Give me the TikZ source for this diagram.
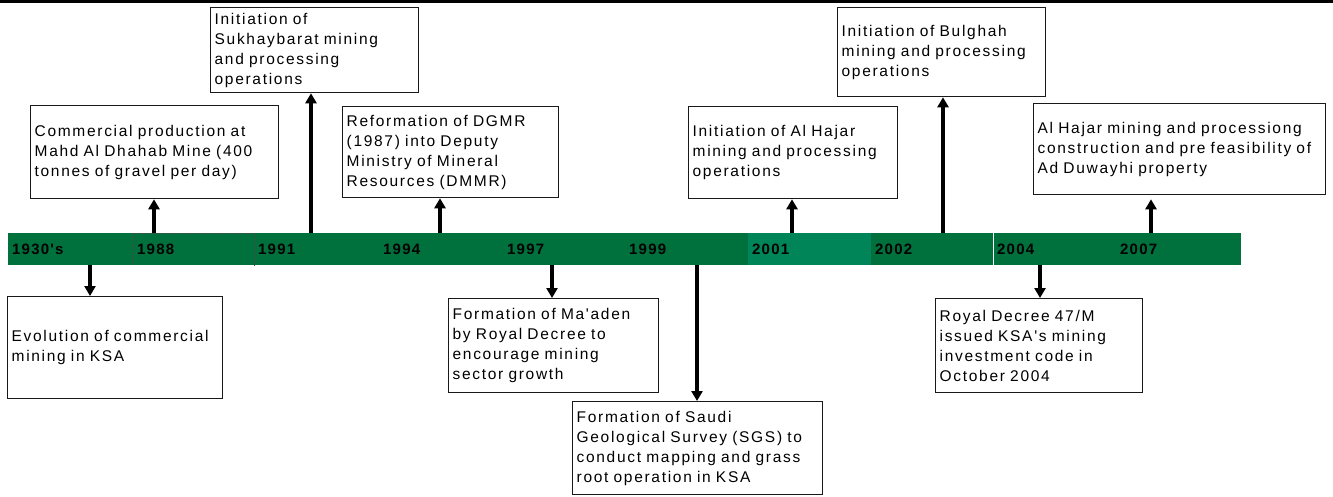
\documentclass[tikz,border=0pt]{standalone}
\usepackage{fontspec}
\setmainfont{Liberation Sans}
\newfontfamily\boxfont[LetterSpace=11]{Liberation Sans}
\newfontfamily\yearfont[LetterSpace=8]{Liberation Sans}
\usetikzlibrary{arrows.meta}
\definecolor{bargreen}{RGB}{0,112,60}
\definecolor{barlight}{RGB}{0,133,88}
\begin{document}
\begin{tikzpicture}[x=1pt,y=-1pt,
  evt/.style={draw=black!90, line width=1.3pt, fill=white, anchor=north west,
    inner xsep=4pt, inner ysep=0pt, align=left,
    font=\boxfont\fontsize{15.5}{20}\selectfont},
  yr/.style={anchor=base west, inner sep=0pt,
    font=\yearfont\bfseries\fontsize{15}{17}\selectfont, text=black},
  arr/.style={line width=3.2pt, -{Triangle[width=11pt,length=10pt]}}
]
\useasboundingbox (0,0) rectangle (1333,496);
\fill[black] (0,0) rectangle (1333,2.5);

% timeline bar
\fill[bargreen] (8,233) rectangle (1241,265);
\fill[barlight] (748,233) rectangle (871,265);
\draw[black!70, densely dotted, line width=0.6pt] (132,265) -- (132,233) -- (254,233) -- (254,265);
\draw[white, line width=0.8pt] (993,233) -- (993,265);

% year labels
\node[yr] (y1930) at (12,254.5) {1930's};
\node[yr] (y1988) at (137,254.5) {1988};
\node[yr] (y1991) at (258,254.5) {1991};
\node[yr] (y1994) at (383,254.5) {1994};
\node[yr] (y1997) at (507,254.5) {1997};
\node[yr] (y1999) at (629,254.5) {1999};
\node[yr] (y2001) at (752,254.5) {2001};
\node[yr] (y2002) at (875,254.5) {2002};
\node[yr] (y2004) at (997,254.5) {2004};
\node[yr] (y2007) at (1120,254.5) {2007};

% event boxes above
\node[evt, text width=200pt, minimum height=85pt] (sukh) at (210,7)
  {Initiation of\\Sukhaybarat mining\\and processing\\operations};
\node[evt, text width=240pt, minimum height=93pt] (comm) at (30,105)
  {Commercial production at\\Mahd Al Dhahab Mine (400\\tonnes of gravel per day)};
\node[evt, text width=208pt, minimum height=91pt] (ref) at (342,106)
  {Reformation of DGMR\\(1987) into Deputy\\Ministry of Mineral\\Resources (DMMR)};
\node[evt, text width=201pt, minimum height=92pt] (haj) at (688,106)
  {Initiation of Al Hajar\\mining and processing\\operations};
\node[evt, text width=200pt, minimum height=89pt] (bul) at (837,7)
  {Initiation of Bulghah\\mining and processing\\operations};
\node[evt, text width=284pt, minimum height=91pt] (con) at (1033,103)
  {Al Hajar mining and processiong\\construction and pre feasibility of\\Ad Duwayhi property};

% event boxes below
\node[evt, text width=207pt, minimum height=102pt] (evo) at (7,296)
  {Evolution of commercial\\mining in KSA};
\node[evt, text width=202pt, minimum height=94pt] (mad) at (448,298)
  {Formation of Ma'aden\\by Royal Decree to\\encourage mining\\sector growth};
\node[evt, text width=242pt, minimum height=93pt] (sgs) at (572,401)
  {Formation of Saudi\\Geological Survey (SGS) to\\conduct mapping and grass\\root operation in KSA};
\node[evt, text width=199pt, minimum height=94pt] (roy) at (935,298)
  {Royal Decree 47/M\\issued KSA's mining\\investment code in\\October 2004};

% connector start points on the bar
\coordinate (pcomm) at (154,233);
\coordinate (psukh) at (311,233);
\coordinate (pref) at (440,233);
\coordinate (phaj) at (792,233);
\coordinate (pbul) at (943,233);
\coordinate (pcon) at (1151,233);
\coordinate (pevo) at (90,265);
\coordinate (pmad) at (552,265);
\coordinate (psgs) at (697,265);
\coordinate (proy) at (1040,265);

\draw[arr] (pcomm) -- (pcomm |- comm.south);
\draw[arr] (psukh) -- (psukh |- sukh.south);
\draw[arr] (pref) -- (pref |- ref.south);
\draw[arr] (phaj) -- (phaj |- haj.south);
\draw[arr] (pbul) -- (pbul |- bul.south);
\draw[arr, shorten >=4pt] (pcon) -- (pcon |- con.south);
\draw[arr] (pevo) -- (pevo |- evo.north);
\draw[arr] (pmad) -- (pmad |- mad.north);
\draw[arr] (psgs) -- (psgs |- sgs.north);
\draw[arr] (proy) -- (proy |- roy.north);
\end{tikzpicture}
\end{document}
